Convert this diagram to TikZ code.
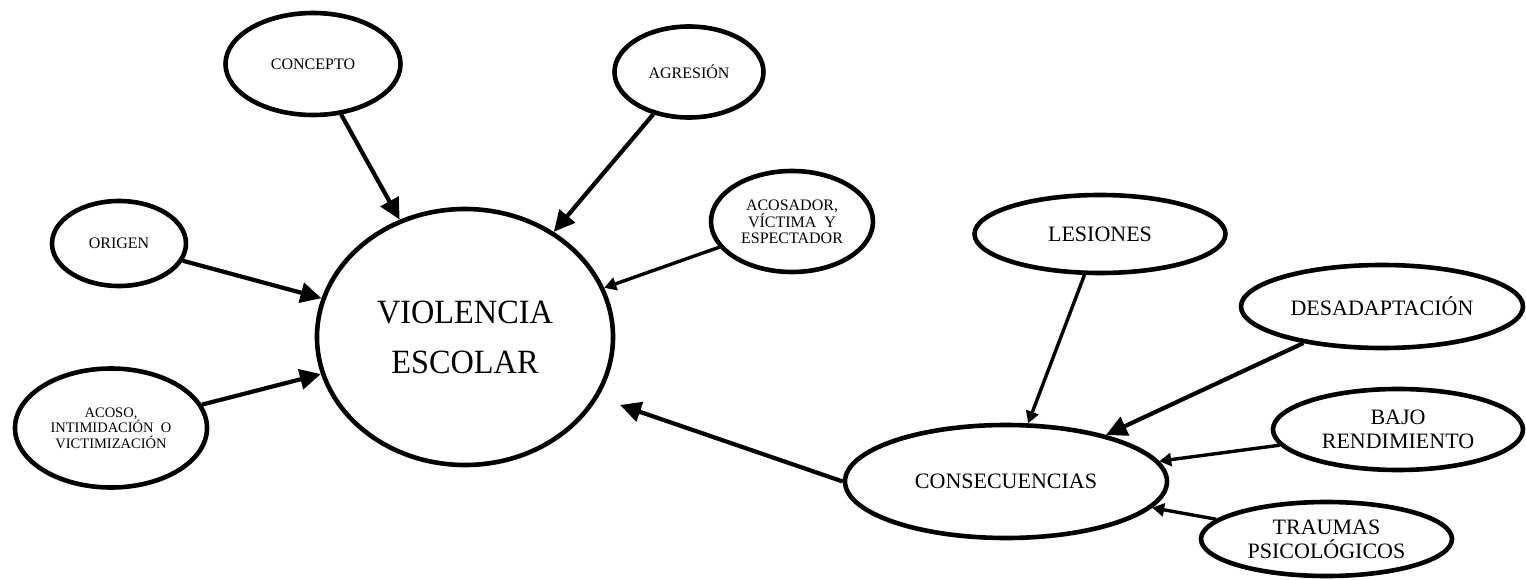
\documentclass[tikz,border=0pt]{standalone}
\usepackage{fontspec}
\setmainfont{Liberation Serif}
\usetikzlibrary{shapes.geometric,arrows.meta}
\tikzset{
  bub/.style={ellipse, draw, line width=4.6pt, inner sep=0pt, align=center},
  arr/.style={line width=4.2pt, -{Triangle[length=21pt,width=20pt]}},
  arrs/.style={line width=3.4pt, -{Triangle[length=12pt,width=13pt]}},
  fs/.style={font=\fontsize{#1}{#1}\selectfont},
}
\begin{document}
\begin{tikzpicture}[x=1pt,y=-1pt]
\useasboundingbox (0,0) rectangle (1526,580);
\fill[white] (0,0) rectangle (1526,580);
% nodes
\node[bub, minimum width=296pt, minimum height=256pt, font=\fontsize{34}{50}\selectfont] (viol) at (465,337) {\scalebox{0.95}[1]{VIOLENCIA}\\\scalebox{0.95}[1]{ESCOLAR}};
\node[bub, minimum width=175pt, minimum height=102pt, fs=16] (concepto) at (313,64) {CONCEPTO};
\node[bub, minimum width=149pt, minimum height=91pt, fs=16] (agresion) at (689,72) {AGRESIÓN};
\node[bub, minimum width=134pt, minimum height=85pt, fs=16] (origen) at (119,243.5) {ORIGEN};
\node[bub, minimum width=192pt, minimum height=119pt, font=\fontsize{14.5}{15.5}\selectfont] (acoso) at (111,428) {ACOSO,\\INTIMIDACIÓN\ \ O\\VICTIMIZACIÓN};
\node[bub, minimum width=162pt, minimum height=101pt, font=\fontsize{16}{15.5}\selectfont] (acosador) at (792,221.5) {ACOSADOR,\\VÍCTIMA\ \ Y\\ESPECTADOR};
\node[bub, minimum width=322pt, minimum height=113pt, fs=22] (consec) at (1006,481.5) {CONSECUENCIAS};
\node[bub, minimum width=251pt, minimum height=78pt, fs=22] (lesiones) at (1100,234) {LESIONES};
\node[bub, minimum width=282pt, minimum height=83pt, fs=22] (desad) at (1382,306.5) {DESADAPTACIÓN};
\node[bub, minimum width=250pt, minimum height=81pt, font=\fontsize{22}{24}\selectfont] (bajo) at (1398,429.5) {BAJO\\RENDIMIENTO};
\node[bub, minimum width=251pt, minimum height=74pt, font=\fontsize{22}{24}\selectfont] (traumas) at (1326.5,539) {TRAUMAS\\PSICOLÓGICOS};
\coordinate (vtip) at (620,405);
% connectors
\draw[arr] (concepto) -- (viol);
\draw[arr] (agresion) -- (viol);
\draw[arr] (origen) -- (viol);
\draw[arr] (acoso) -- (viol);
\draw[arrs] (acosador) -- (viol);
\draw[arr] (consec.west) -- (vtip);
\draw[arrs] (lesiones) -- (consec);
\draw[arr] (desad) -- (consec);
\draw[arrs] (bajo) -- (consec);
\draw[arrs] (traumas) -- (consec);
\end{tikzpicture}
\end{document}
